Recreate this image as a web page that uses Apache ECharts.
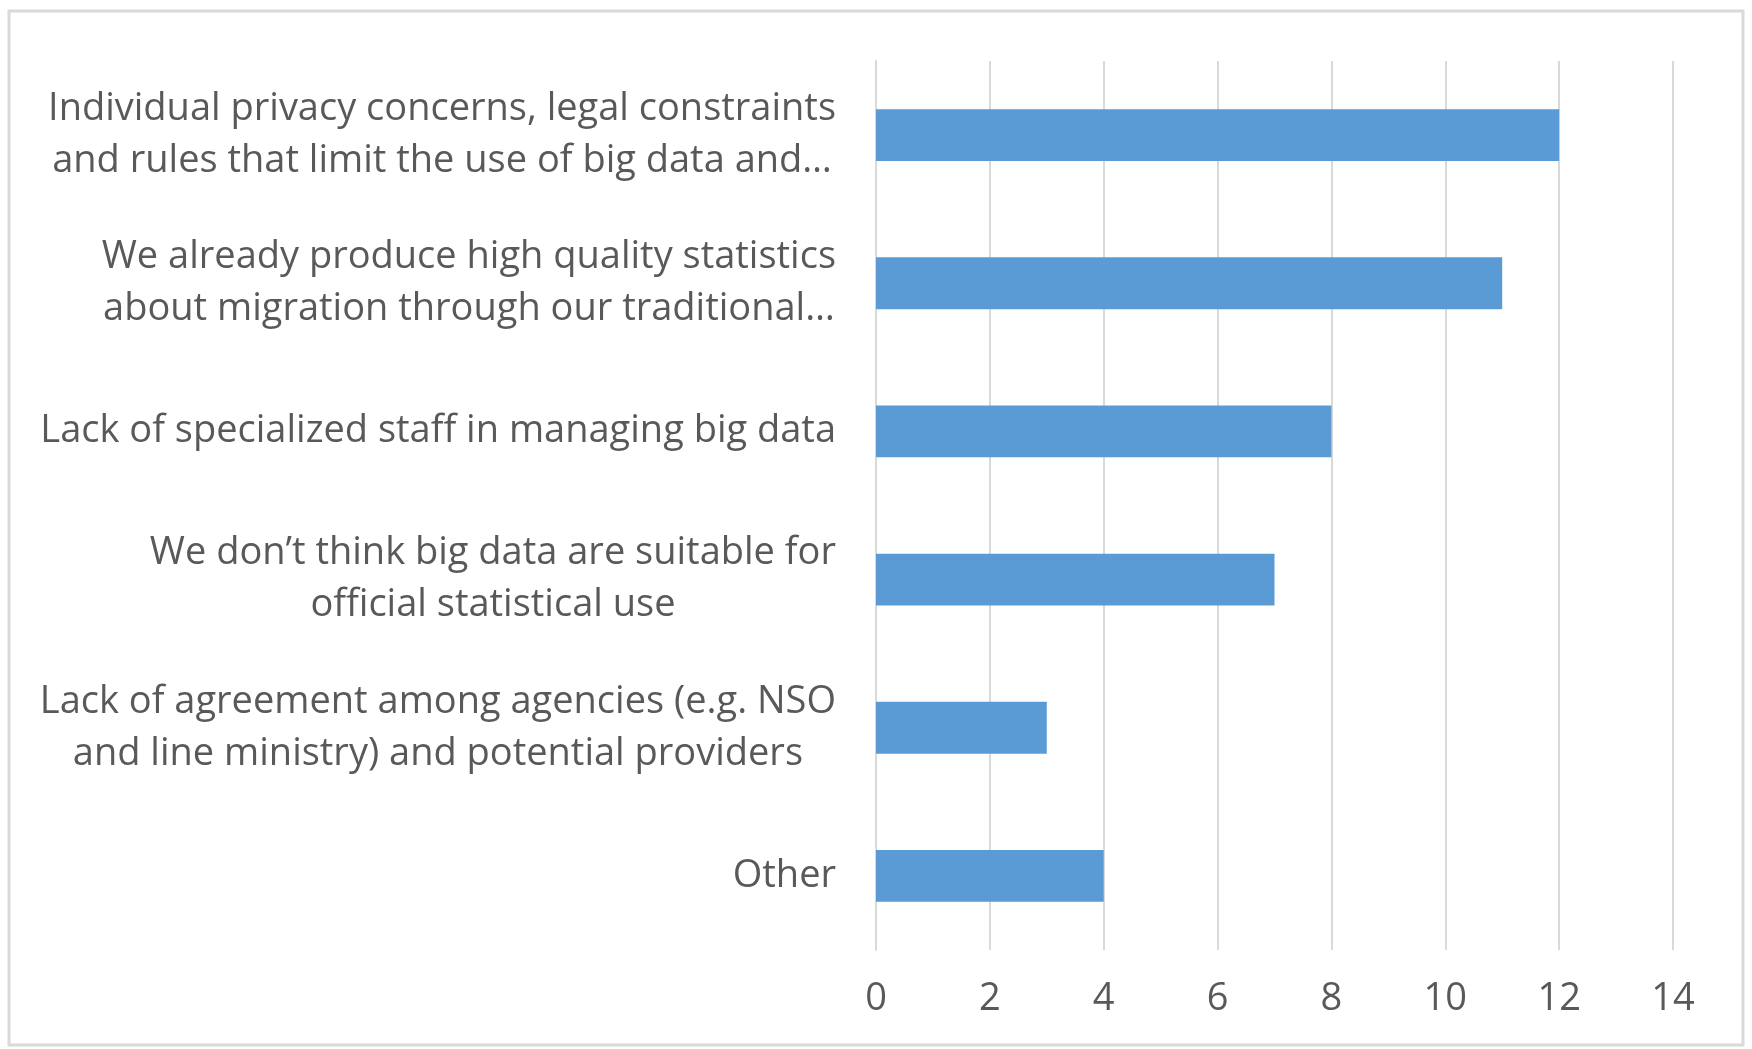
<html>
    <head>
        <meta charset="utf-8">
        <script src='https://cdn.jsdelivr.net/npm/echarts@6/dist/echarts.min.js'></script>
    </head>
    <body>
        <style>
            html, body, #main {
                width: 100%;
                height: 100%;
                margin: 0;
                background: #fff;
            }
        </style>
        <div id='main'></div>
        <script>
            var categories = [
                'Individual privacy concerns, legal constraints\nand rules that limit the use of big data and…',
                'We already produce high quality statistics\nabout migration through our traditional…',
                'Lack of specialized staff in managing big data',
                'We don’t think big data are suitable for\nofficial statistical use',
                'Lack of agreement among agencies (e.g. NSO\nand line ministry) and potential providers',
                'Other'
            ];
            var values = [12, 11, 8, 7, 3, 4];
            var xTicks = [0, 2, 4, 6, 8, 10, 12, 14];

            var font = '"Open Sans", sans-serif';
            var chart = echarts.init(document.getElementById('main'));

            var option = {
                animation: false,
                graphic: [{
                    type: 'rect',
                    shape: { x: 9, y: 11, width: 1734, height: 1034 },
                    style: { fill: 'none', stroke: '#d9d9d9', lineWidth: 3 }
                }],
                grid: { left: 876, right: 79, top: 61, bottom: 99 },
                xAxis: {
                    type: 'value',
                    min: xTicks[0],
                    max: xTicks[xTicks.length - 1],
                    interval: 2,
                    axisLine: { show: false },
                    axisTick: { show: false },
                    splitLine: { lineStyle: { color: '#d9d9d9', width: 2 } },
                    axisLabel: { color: '#595959', fontSize: 38, fontFamily: font, margin: 30 }
                },
                yAxis: {
                    type: 'category',
                    inverse: true,
                    data: categories,
                    axisLine: { lineStyle: { color: '#d9d9d9', width: 2 } },
                    axisTick: { show: false },
                    axisLabel: {
                        margin: 40,
                        color: '#595959',
                        fontSize: 38,
                        fontFamily: font,
                        lineHeight: 52,
                        // centre each line inside the right-aligned block
                        formatter: function (v) {
                            return v.split('\n').map(function (l) { return '{c|' + l + '}'; }).join('\n');
                        },
                        rich: {
                            c: { align: 'center', fontSize: 38, fontFamily: font, color: '#595959', lineHeight: 52 }
                        }
                    }
                },
                series: [{
                    type: 'bar',
                    data: values,
                    barWidth: '35%',
                    itemStyle: { color: '#5b9bd5' }
                }]
            };
            chart.setOption(option);
            window.onresize = chart.resize;
        </script>
    </body>
</html>
